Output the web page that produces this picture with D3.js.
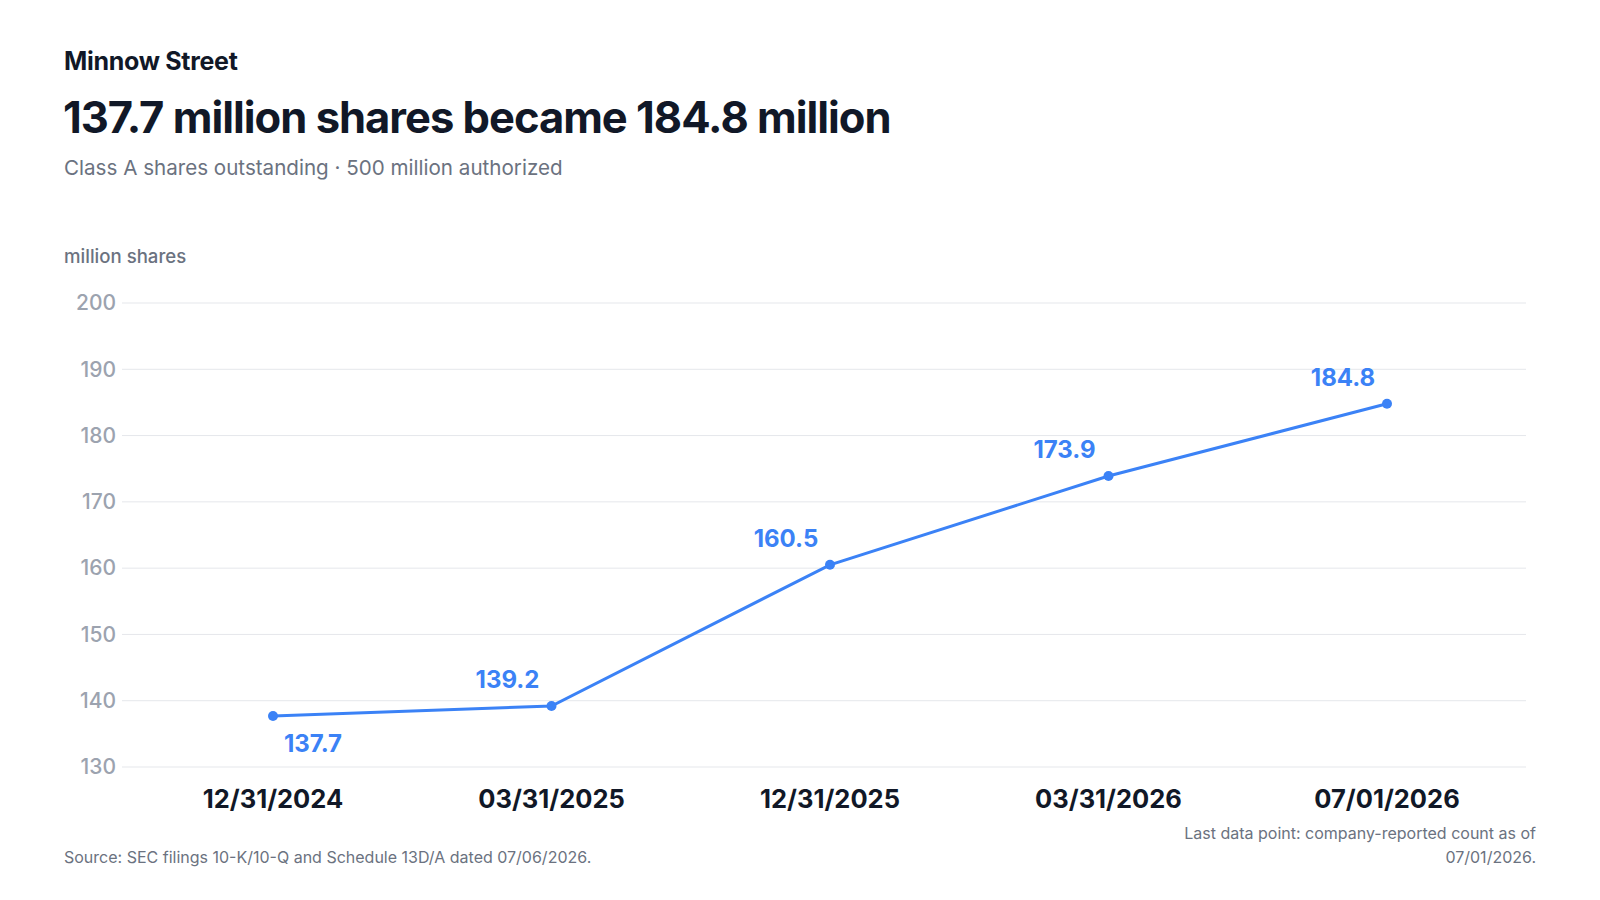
<!DOCTYPE html>
<html lang="en">
<head>
  <meta charset="UTF-8">
  <title>Minnow Street shares</title>
  <script src="https://d3js.org/d3.v7.min.js"></script>
</head>
<body style="margin: 0; overflow: hidden; background: #fff;">
<script>
  const dates = ['12/31/2024', '03/31/2025', '12/31/2025', '03/31/2026', '07/01/2026'];
  const shares = [137.7, 139.2, 160.5, 173.9, 184.8];
  const yTicks = [130, 140, 150, 160, 170, 180, 190, 200];

  const font = 'Inter, "Noto Sans", sans-serif';
  const blue = '#3b82f6';

  const svg = d3.select('body').append('svg')
    .attr('width', 1600)
    .attr('height', 900)
    .style('font-family', font);

  //Header
  svg.append('text').attr('x', 64).attr('y', 70)
    .attr('font-size', 25).attr('font-weight', 700).attr('fill', '#111827')
    .attr('letter-spacing', '-0.3').text('Minnow Street');
  svg.append('text').attr('x', 63).attr('y', 133)
    .attr('font-size', 43.5).attr('font-weight', 700).attr('fill', '#111827')
    .attr('letter-spacing', '-1').text('137.7 million shares became 184.8 million');
  svg.append('text').attr('x', 64).attr('y', 175)
    .attr('font-size', 20.6).attr('fill', '#6b7280').text('Class A shares outstanding · 500 million authorized');
  svg.append('text').attr('x', 64).attr('y', 263)
    .attr('font-size', 18.6).attr('font-weight', 500).attr('fill', '#6b7280').text('million shares');

  //Scales
  const x = d3.scalePoint().domain(dates).range([273, 1387]);
  const y = d3.scaleLinear().domain([130, 200]).range([767, 303]);

  //Grid and y labels
  svg.append('g').selectAll('line').data(yTicks).join('line')
    .attr('x1', 122).attr('x2', 1526)
    .attr('y1', d => y(d)).attr('y2', d => y(d))
    .attr('stroke', '#e5e7eb').attr('stroke-width', 1);
  svg.append('g').selectAll('text').data(yTicks).join('text')
    .attr('x', 116).attr('y', d => y(d)).attr('dy', '0.35em')
    .attr('text-anchor', 'end').attr('font-size', 21).attr('font-weight', 500).attr('fill', '#9ca3af')
    .text(d => d);

  //X labels
  svg.append('g').selectAll('text').data(dates).join('text')
    .attr('x', d => x(d)).attr('y', 808)
    .attr('text-anchor', 'middle').attr('font-size', 25.5).attr('font-weight', 700)
    .attr('fill', '#111827').text(d => d);

  //Line
  const pts = dates.map((d, i) => [d, shares[i]]);
  svg.append('path').datum(pts)
    .attr('d', d3.line().x(d => x(d[0])).y(d => y(d[1])))
    .attr('fill', 'none').attr('stroke', blue).attr('stroke-width', 3);
  svg.append('g').selectAll('circle').data(pts).join('circle')
    .attr('cx', d => x(d[0])).attr('cy', d => y(d[1])).attr('r', 5).attr('fill', blue);

  //Value labels
  svg.append('g').selectAll('text').data(pts).join('text')
    .attr('x', (d, i) => x(d[0]) + (i === 0 ? 40 : -44))
    .attr('y', (d, i) => y(d[1]) + (i === 0 ? 36 : -18))
    .attr('text-anchor', 'middle').attr('font-size', 24).attr('font-weight', 700)
    .attr('fill', blue).text(d => d[1].toFixed(1));

  //Footer
  svg.append('text').attr('x', 64).attr('y', 863)
    .attr('font-size', 16).attr('fill', '#6b7280')
    .text('Source: SEC filings 10-K/10-Q and Schedule 13D/A dated 07/06/2026.');
  svg.append('text').attr('x', 1536).attr('y', 839).attr('text-anchor', 'end')
    .attr('font-size', 16).attr('fill', '#6b7280')
    .text('Last data point: company-reported count as of');
  svg.append('text').attr('x', 1536).attr('y', 863).attr('text-anchor', 'end')
    .attr('font-size', 16).attr('fill', '#6b7280').text('07/01/2026.');
</script>
</body>
</html>
